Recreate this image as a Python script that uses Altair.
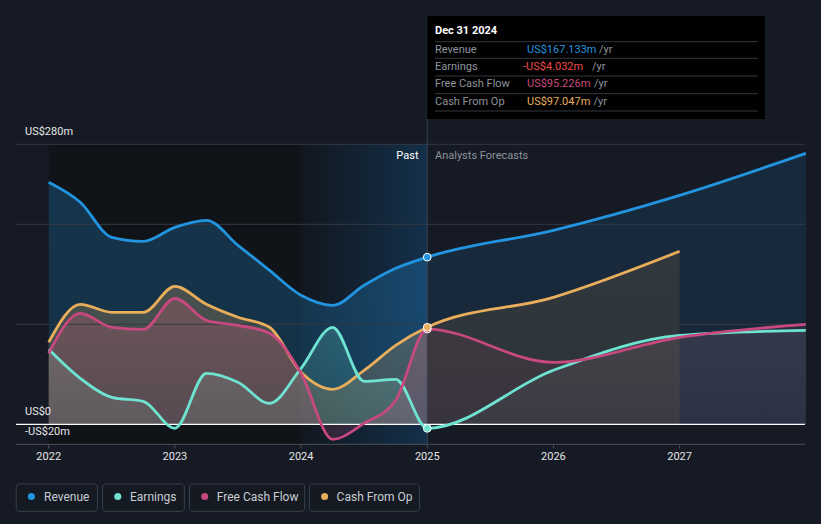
import altair as alt
import pandas as pd

# ---------------- data ----------------
series_names = ["Revenue", "Earnings", "Free Cash Flow", "Cash From Op"]
series_colors = ["#2394df", "#6fe3d1", "#c8497f", "#e9ae5c"]
series_rgb = ["35,148,223", "111,227,209", "200,73,127", "233,174,92"]

periods = [2022.0, 2022.25, 2022.5, 2022.75, 2023.0, 2023.25, 2023.5, 2023.75,
           2024.0, 2024.25, 2024.5, 2024.75, 2025.0, 2026.0, 2027.0, 2028.0]
revenue = [242, 222, 187, 183, 197, 204, 179, 154, 129, 119, 139, 156, 167.133, 194, 229, 271]
earnings = [75, 46, 27, 23, -4, 51, 42, 21, 56, 97, 43, 45, -4.032, 54, 89, 94]
free_cash_flow = [71, 111, 97, 95, 126, 104, 99, 91, 51, -15, 1, 24, 95.226, 62, 87, 100]
cash_from_op = [82, 120, 112, 112, 138, 120, 107, 97, 52, 35, 54, 79, 97.047, 127, 173, None]

year_ticks = [2022, 2023, 2024, 2025, 2026, 2027]
y_labels = ["US$280m", "US$0", "-US$20m"]
y_label_values = [280, 0, -20]
grid_values = [280, 200, 100]

tooltip_title = "Dec 31 2024"
tooltip_values = ["US$167.133m", "-US$4.032m", "US$95.226m", "US$97.047m"]
tooltip_value_colors = ["#2394df", "#f04b4b", "#c8497f", "#e9ae5c"]

rows = []
for name, vals in zip(series_names, [revenue, earnings, free_cash_flow, cash_from_op]):
    for p, v in zip(periods, vals):
        if v is not None:
            rows.append({"series": name, "x": p, "v": v})
df = pd.DataFrame(rows)

# ---------------- layout ----------------
W, H = 805, 506
PX_PER_YEAR = 126.18
X0 = 2022 - (48.7 - 8) / PX_PER_YEAR
X1 = X0 + W / PX_PER_YEAR
V1 = 416.3
V0 = V1 - H

BG = "#151a24"
FONT = "Roboto"

xs = alt.Scale(domain=[X0, X1], nice=False, zero=False)
ys = alt.Scale(domain=[V0, V1], nice=False, zero=False)
cs = alt.Scale(domain=series_names, range=series_colors)

one = pd.DataFrame({"k": [0]})

def X(field="x"):
    return alt.X(f"{field}:Q", scale=xs, axis=None)

def Y(field="v"):
    return alt.Y(f"{field}:Q", scale=ys, axis=None)

layers = []

# past dark background (2022-2024)
bgdf = pd.DataFrame({"x": [2022.0], "x2": [2024.0], "v": [280], "v2": [-20]})
layers.append(alt.Chart(bgdf).mark_rect(fill="#101318").encode(
    x=X(), x2="x2:Q", y=Y(), y2="v2:Q"))

# highlight band 2024-2025
hdf = pd.DataFrame({"x": [2024.0], "x2": [2025.0], "v": [280], "v2": [-20]})
layers.append(alt.Chart(hdf).mark_rect(
    fill=alt.LinearGradient(gradient="linear", x1=0, x2=1, y1=0, y2=0,
                            stops=[alt.GradientStop(color="#11171f", offset=0),
                                   alt.GradientStop(color="#14304a", offset=1)])
).encode(x=X(), x2="x2:Q", y=Y(), y2="v2:Q"))

# areas (vertical gradient fills)
area_top = [0.27, 0.22, 0.27, 0.26]
area_bottom = [0.22, 0.12, 0.18, 0.18]
for name, rgb, at, ab in zip(series_names, series_rgb, area_top, area_bottom):
    sub = df[df.series == name]
    layers.append(alt.Chart(sub).mark_area(
        interpolate="monotone",
        fill=alt.LinearGradient(gradient="linear", x1=0, x2=0, y1=0, y2=1,
                                stops=[alt.GradientStop(color=f"rgba({rgb},{at})", offset=0),
                                       alt.GradientStop(color=f"rgba({rgb},{ab})", offset=1)])
    ).encode(x=X(), y=Y(), y2=alt.datum(0)))

# dim overlay for forecasts
odf = pd.DataFrame({"x": [2025.0], "x2": [2028.0], "v": [300], "v2": [-20]})
layers.append(alt.Chart(odf).mark_rect(fill=BG, opacity=0.5).encode(
    x=X(), x2="x2:Q", y=Y(), y2="v2:Q"))

# gridlines
gdf = pd.DataFrame({"v": grid_values})
layers.append(alt.Chart(gdf).mark_rule(color="#343a44", strokeWidth=1).encode(
    y=Y(), x=alt.value(8), x2=alt.value(797)))

# bottom axis line
adf = pd.DataFrame({"v": [-20]})
layers.append(alt.Chart(adf).mark_rule(color="#4a505a", strokeWidth=1).encode(
    y=Y(), x=alt.value(8), x2=alt.value(797)))

# vertical line at 2025
vdf = pd.DataFrame({"x": [2025.0], "v": [-20]})
layers.append(alt.Chart(vdf).mark_rule(color="#3a4553", strokeWidth=1).encode(
    x=X(), y=Y(), y2=alt.value(8)))

# zero line
zdf = pd.DataFrame({"v": [0]})
layers.append(alt.Chart(zdf).mark_rule(color="#ffffff", strokeWidth=1.2).encode(
    y=Y(), x=alt.value(8), x2=alt.value(797)))

# lines
for name in ["Revenue", "Cash From Op", "Earnings", "Free Cash Flow"]:
    col = series_colors[series_names.index(name)]
    sub = df[df.series == name]
    layers.append(alt.Chart(sub).mark_line(
        interpolate="monotone", color=col, strokeWidth=2.8
    ).encode(x=X(), y=Y()))

# points at 2025
pts = df[df.x == 2025.0]
pts = pts.set_index("series").loc[["Free Cash Flow", "Earnings", "Revenue", "Cash From Op"]].reset_index()
layers.append(alt.Chart(pts).mark_point(
    filled=True, size=60, stroke="#ffffff", strokeWidth=1, opacity=1
).encode(x=X(), y=Y(),
         fill=alt.Color("series:N", scale=cs, legend=None)))

# x ticks and labels
tdf = pd.DataFrame({"x": [float(t) for t in year_ticks], "label": [str(t) for t in year_ticks]})
layers.append(alt.Chart(tdf).mark_rule(color="#4a505a").encode(
    x=X(), y=alt.value(436.3), y2=alt.value(440.5)))
layers.append(alt.Chart(tdf).mark_text(
    font=FONT, fontSize=11, color="#e6e6e6", baseline="middle", align="center"
).encode(x=X(), y=alt.value(449), text="label:N"))

# y labels
yldf = pd.DataFrame({"v": y_label_values, "label": y_labels})
layers.append(alt.Chart(yldf).mark_text(
    font=FONT, fontSize=11, color="#e6e6e6", baseline="middle", align="left", dy=-12
).encode(x=alt.value(17), y=Y(), text="label:N"))

# Past / Analysts Forecasts
layers.append(alt.Chart(one).mark_text(
    text="Past", font=FONT, fontSize=11, color="#ffffff", align="right", baseline="middle"
).encode(x=alt.value(410.5), y=alt.value(148)))
layers.append(alt.Chart(one).mark_text(
    text="Analysts Forecasts", font=FONT, fontSize=11, color="#8d939c", align="left", baseline="middle"
).encode(x=alt.value(427), y=alt.value(148)))

# tooltip box
layers.append(alt.Chart(one).mark_rect(fill="#000000", opacity=0.95).encode(
    x=alt.value(419), x2=alt.value(757), y=alt.value(8), y2=alt.value(111)))
layers.append(alt.Chart(one).mark_text(
    text=tooltip_title, font=FONT, fontSize=11, fontWeight="bold", color="#ffffff",
    align="left", baseline="middle"
).encode(x=alt.value(427), y=alt.value(23)))
sep_y = [33.7, 50.3, 68, 85.7, 103]
for sy in sep_y:
    layers.append(alt.Chart(one).mark_rule(color="#33373e", strokeWidth=1).encode(
        x=alt.value(427), x2=alt.value(750), y=alt.value(sy)))
row_y = [41.5, 58.8, 76.3, 93.8]
val_x = [519, 515, 519, 519]
suf_x = [591, 584, 586, 585.5]
for i, name in enumerate(series_names):
    layers.append(alt.Chart(one).mark_text(
        text=name, font=FONT, fontSize=11, color="#8d939c", align="left", baseline="middle"
    ).encode(x=alt.value(427), y=alt.value(row_y[i])))
    layers.append(alt.Chart(one).mark_text(
        text=tooltip_values[i], font=FONT, fontSize=11, color=tooltip_value_colors[i],
        align="left", baseline="middle"
    ).encode(x=alt.value(val_x[i]), y=alt.value(row_y[i])))
    layers.append(alt.Chart(one).mark_text(
        text="/yr", font=FONT, fontSize=11, color="#8d939c", align="left", baseline="middle"
    ).encode(x=alt.value(suf_x[i]), y=alt.value(row_y[i])))

# legend
box_x = [(8.2, 89.4), (94.6, 176.3), (181.5, 296.7), (301.4, 411.4)]
dot_x = [23.4, 109.8, 196.7, 316.6]
txt_x = [36, 122, 208.8, 328.6]
for i, name in enumerate(series_names):
    layers.append(alt.Chart(one).mark_rect(
        fill="#141922", stroke="#3b414b", strokeWidth=1, cornerRadius=3
    ).encode(x=alt.value(box_x[i][0]), x2=alt.value(box_x[i][1]),
             y=alt.value(476), y2=alt.value(503.3)))
    layers.append(alt.Chart(one).mark_point(
        filled=True, shape="circle", size=50, color=series_colors[i], opacity=1
    ).encode(x=alt.value(dot_x[i]), y=alt.value(488.5)))
    layers.append(alt.Chart(one).mark_text(
        text=name, font=FONT, fontSize=12, color="#c9cdd2", align="left", baseline="middle"
    ).encode(x=alt.value(txt_x[i]), y=alt.value(489)))

chart = alt.layer(*layers).properties(
    width=W, height=H, background=BG, padding=0,
    autosize=alt.AutoSizeParams(type="none")
).configure_view(stroke=None)

chart.save("out.html", embed_options={"renderer": "svg", "actions": False})

# dark page background around the chart
with open("out.html", "r", encoding="utf-8") as f:
    html = f.read()
html = html.replace("<head>", "<head><style>html,body{background:#151a24;}</style>", 1)
with open("out.html", "w", encoding="utf-8") as f:
    f.write(html)
